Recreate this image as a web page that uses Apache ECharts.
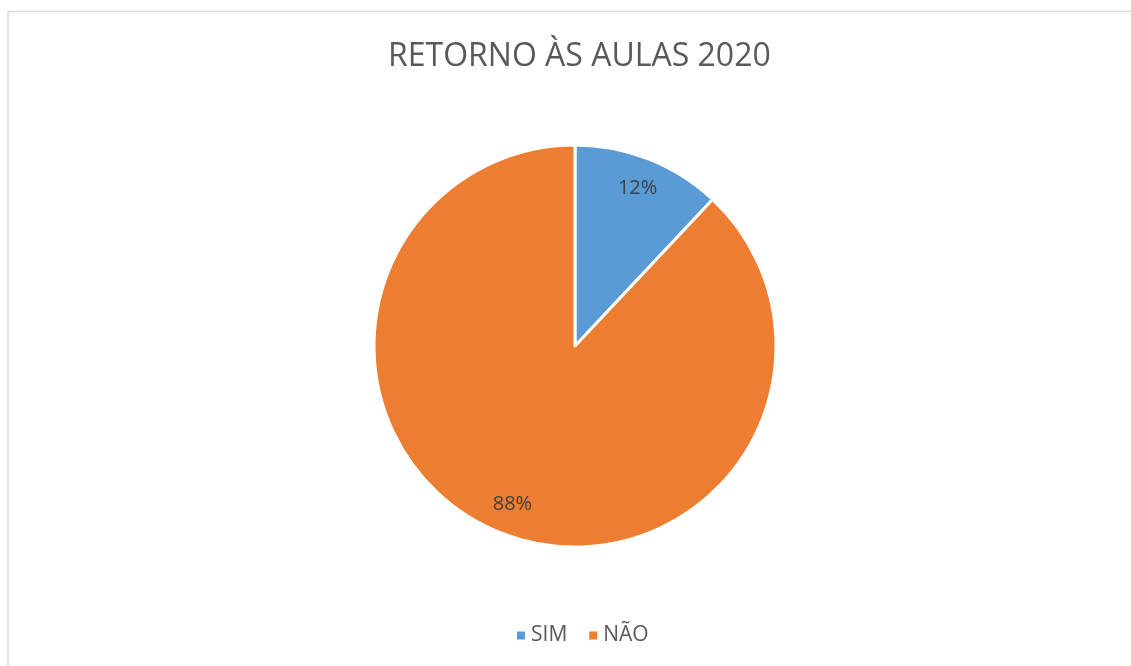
<!DOCTYPE html>
<html>
<head>
<meta charset="utf-8">
<script src="https://cdn.jsdelivr.net/npm/echarts@6/dist/echarts.min.js"></script>
<style>
  html, body { margin: 0; padding: 0; background: #fff; }
  #chart { width: 1131px; height: 666px; }
</style>
</head>
<body>
<div id="chart"></div>
<script>
var categories = ["SIM", "NÃO"];
var values = [12, 88];
var colors = ["#5B9BD5", "#ED7D31"];

var pieData = categories.map(function (name, i) {
  return { name: name, value: values[i], itemStyle: { color: colors[i] } };
});

var chart = echarts.init(document.getElementById("chart"));
var option = {
  animation: false,
  title: {
    text: "RETORNO ÀS AULAS 2020",
    left: 383,
    top: 36,
    textStyle: {
      fontFamily: "Open Sans",
      fontSize: 32,
      fontWeight: "normal",
      color: "#595959"
    }
  },
  legend: {
    data: categories,
    bottom: 15,
    left: 510,
    icon: "rect",
    itemWidth: 10,
    itemHeight: 10,
    itemGap: 20,
    textStyle: { fontFamily: "Open Sans", fontSize: 21, color: "#595959" }
  },
  graphic: [
    {
      type: "rect",
      shape: { x: 8, y: 11.5, width: 1200, height: 700 },
      style: { fill: "none", stroke: "#d9d9d9", lineWidth: 1.5 },
      silent: true
    }
  ],
  series: [
    {
      name: "Retorno",
      type: "pie",
      center: [575, 346],
      radius: 201,
      startAngle: 90,
      clockwise: true,
      data: pieData,
      itemStyle: { borderColor: "#fff", borderWidth: 3 },
      label: { show: false },
      labelLine: { show: false },
      emphasis: { disabled: true }
    },
    {
      name: "Rótulos",
      type: "pie",
      center: [575, 346],
      radius: [134, 200],
      startAngle: 90,
      clockwise: true,
      silent: true,
      data: pieData.map(function (d) {
        return { name: d.name, value: d.value, itemStyle: { color: "transparent" } };
      }),
      label: {
        show: true,
        position: "inside",
        formatter: "{d}%",
        fontFamily: "Open Sans",
        fontSize: 20,
        color: "#404040"
      },
      labelLine: { show: false },
      emphasis: { disabled: true }
    }
  ]
};
chart.setOption(option);
</script>
</body>
</html>
